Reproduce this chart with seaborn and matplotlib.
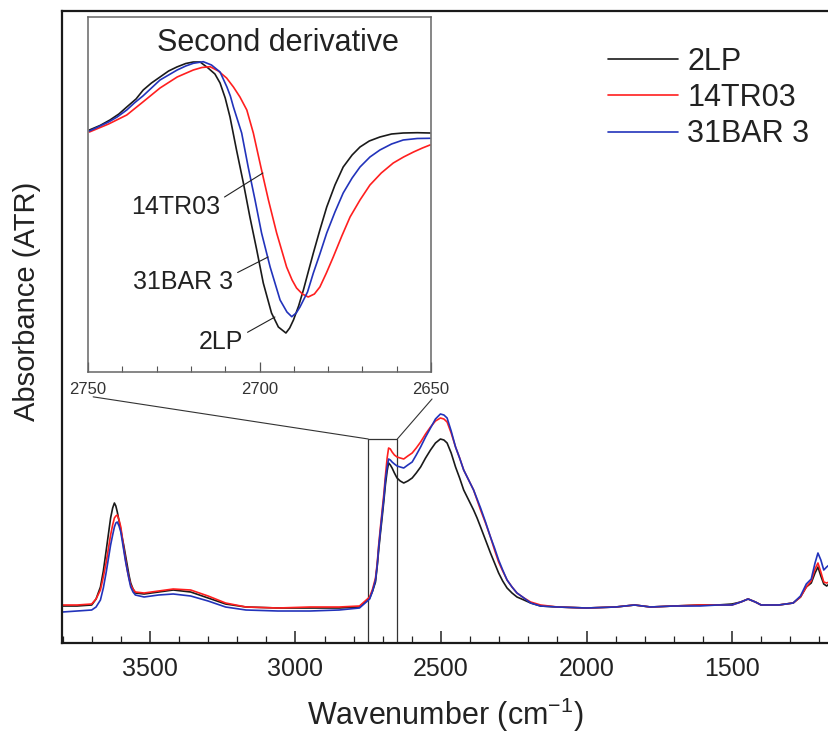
import numpy as np
import pandas as pd
import seaborn as sns
import matplotlib.pyplot as plt
from matplotlib.patches import Rectangle, ConnectionPatch
from matplotlib.ticker import MultipleLocator

samples = ["2LP", "14TR03", "31BAR 3"]
colors = ["#1a1a1a", "#ff1f1f", "#2233bb"]

# ATR spectra (absorbance, arbitrary units), wavenumber in cm-1
wn = [3800, 3750, 3700, 3685, 3670, 3660, 3650, 3635, 3628, 3622, 3617, 3612,
      3606, 3600, 3595, 3590, 3584, 3578, 3572, 3566, 3558, 3550, 3520, 3470,
      3420, 3360, 3300, 3240, 3170, 3060, 2950, 2850, 2780, 2745, 2735, 2725,
      2719, 2714, 2708, 2702, 2696, 2691, 2685, 2680, 2674, 2668, 2660, 2651,
      2640, 2628, 2614, 2599, 2585, 2570, 2553, 2536, 2519, 2502, 2490, 2479,
      2465, 2450, 2436, 2422, 2405, 2388, 2376, 2364, 2347, 2330, 2316, 2302,
      2288, 2273, 2256, 2239, 2215, 2192, 2158, 2100, 2000, 1900, 1835, 1780,
      1700, 1610, 1550, 1500, 1470, 1445, 1420, 1400, 1340, 1290, 1265, 1245,
      1228, 1215, 1205, 1195, 1185, 1175, 1167]
abs_2lp = [37, 37, 38, 44, 56, 72, 93, 125, 135, 140, 137, 131,
           122, 113, 105, 98, 88, 78, 68, 60, 54, 50, 49, 51,
           53, 51, 45, 39, 36, 35, 35, 35, 36, 45, 52, 61,
           77, 93, 110, 126, 143, 158, 172, 180, 178, 175, 170, 165,
           162, 160, 162, 165, 170, 176, 185, 193, 200, 204, 203, 200,
           190, 176, 165, 153, 143, 133, 125, 116, 103, 90, 80, 70,
           62, 55, 50, 46, 43, 40, 37, 36, 35, 36, 38, 36,
           37, 38, 38, 39, 41, 44, 41, 38, 38, 40, 46, 56,
           60, 70, 76, 67, 59, 57, 59]
abs_14tr03 = [38, 38, 39, 44, 53, 66, 81, 108, 118, 125, 127, 128,
              123, 116, 106, 95, 84, 73, 65, 58, 54, 51, 50, 52,
              54, 53, 47, 40, 36, 35, 36, 36, 37, 46, 54, 65,
              80, 98, 116, 133, 150, 167, 185, 195, 194, 191, 188, 186,
              185, 184, 187, 190, 195, 201, 209, 216, 222, 225, 224, 221,
              210, 196, 185, 173, 163, 153, 143, 133, 120, 106, 93, 81,
              72, 63, 56, 50, 45, 41, 38, 36, 35, 36, 38, 36,
              37, 38, 38, 38, 41, 44, 41, 38, 38, 40, 46, 56,
              62, 74, 80, 71, 61, 60, 61]
abs_31bar3 = [31, 32, 33, 36, 43, 55, 71, 98, 108, 116, 120, 121,
              117, 111, 102, 93, 82, 73, 64, 56, 51, 48, 46, 48,
              49, 47, 42, 36, 33, 32, 32, 33, 35, 44, 52, 63,
              78, 96, 113, 130, 146, 163, 176, 184, 183, 181, 179, 177,
              176, 175, 178, 181, 188, 196, 206, 215, 224, 229, 228, 225,
              212, 196, 185, 173, 163, 153, 144, 135, 121, 106, 95, 83,
              73, 63, 56, 50, 45, 40, 37, 36, 35, 36, 38, 36,
              37, 37, 38, 38, 41, 44, 41, 38, 38, 40, 47, 59,
              64, 80, 90, 83, 73, 76, 78]

# second derivative, 2750-2650 cm-1 (arbitrary units)
d2_wn_2lp = [2749.6, 2746.5, 2743.6, 2741.0, 2738.7, 2736.0, 2733.9, 2731.5,
             2729.0, 2726.5, 2724.1, 2721.5, 2719.3, 2717.3, 2715.0, 2713.0,
             2711.5, 2710.0, 2708.6, 2706.7, 2704.7, 2702.8, 2700.8, 2698.9,
             2696.5, 2694.5, 2692.3, 2691.2, 2690.1, 2688.6, 2687.2, 2685.8,
             2684.3, 2682.4, 2680.4, 2678.0, 2675.6, 2673.0, 2670.7, 2668.0,
             2664.9, 2661.5, 2658.1, 2654.0, 2650.3]
d2_2lp = [0, 4.5, 10, 16, 23, 31, 40, 47,
          53, 59, 63, 66.5, 68, 68, 62, 56,
          47, 32, 13, -20, -53, -87, -120, -153,
          -183, -197, -203, -198, -190, -176, -160, -142,
          -123, -100, -77, -55, -37, -25, -17, -11,
          -7, -4, -3, -2.7, -3]
d2_wn_14tr03 = [2749.6, 2744.0, 2738.7, 2734.0, 2729.0, 2724.0, 2719.3, 2716.8,
                2714.4, 2712.0, 2709.6, 2707.6, 2705.7, 2703.7, 2701.8, 2699.6,
                2697.4, 2695.0, 2692.1, 2690.5, 2689.2, 2687.5, 2685.8, 2684.0,
                2682.4, 2680.5, 2678.5, 2676.0, 2673.6, 2670.7, 2667.8, 2664.5,
                2661.0, 2658.0, 2655.1, 2652.5, 2650.3]
d2_14tr03 = [-2, 6, 15, 28, 42, 53, 60, 62.5,
             63.3, 59, 52, 43, 33, 20, -3, -37,
             -70, -103, -137, -150, -158, -164, -167, -164,
             -157, -143, -127, -106, -87, -70, -55, -43,
             -33, -27, -22, -18, -15]
d2_wn_31bar3 = [2749.6, 2744.0, 2741.5, 2738.7, 2736.5, 2734.0, 2731.5, 2729.0,
                2726.5, 2724.0, 2721.5, 2719.3, 2716.4, 2714.0, 2711.5, 2709.5,
                2708.5, 2707.6, 2705.2, 2703.3, 2701.3, 2699.4, 2696.9, 2694.0,
                2692.0, 2690.6, 2689.3, 2688.2, 2686.0, 2684.3, 2682.4, 2680.4,
                2678.0, 2675.6, 2673.0, 2670.7, 2667.8, 2664.9, 2661.5, 2658.1,
                2654.0, 2650.3]
d2_31bar3 = [-1, 8, 13, 20, 27, 34, 42, 50,
             55, 60, 64, 66.7, 68.3, 65, 58, 43,
             34, 23, -3, -37, -70, -103, -137, -170,
             -182, -186.7, -183, -177, -162, -143, -124, -103,
             -82, -63, -48, -37, -27, -20, -14, -10,
             -8.5, -8.3]

zoom_lo, zoom_hi, zoom_top = 2750, 2650, 204

main = pd.concat([pd.DataFrame({"wn": wn, "A": a, "sample": s})
                  for s, a in zip(samples, [abs_2lp, abs_14tr03, abs_31bar3])])
deriv = pd.concat([pd.DataFrame({"wn": w, "d2": d, "sample": s})
                   for s, w, d in zip(samples,
                                      [d2_wn_2lp, d2_wn_14tr03, d2_wn_31bar3],
                                      [d2_2lp, d2_14tr03, d2_31bar3])])

sns.set_theme(style="ticks")
plt.rcParams["font.family"] = ["Liberation Sans", "DejaVu Sans"]
plt.rcParams["mathtext.fontset"] = "custom"
plt.rcParams["mathtext.rm"] = "Liberation Sans"
plt.rcParams["mathtext.it"] = "Liberation Sans:italic"
plt.rcParams["text.color"] = "#222222"

fig = plt.figure(figsize=(8.29, 7.38), dpi=100)
ax = fig.add_axes([62/829, 1 - 643/738, 1 - 62/829, 632/738])

sns.lineplot(data=main, x="wn", y="A", hue="sample", hue_order=samples,
             palette=colors, estimator=None, sort=False, lw=1.2, ax=ax)
ax.set_xlim(3802, 1167)
ax.set_ylim(0, 632)
ax.set_yticks([])
ax.xaxis.set_major_locator(MultipleLocator(500))
ax.xaxis.set_minor_locator(MultipleLocator(100))
ax.tick_params(axis="x", which="both", direction="in", top=False,
               color="#222222", labelsize=18, pad=10, labelcolor="#222222")
ax.tick_params(axis="x", which="major", length=9, width=1.1)
ax.tick_params(axis="x", which="minor", length=5, width=0.9)
ax.spines["right"].set_visible(False)
for s in ["left", "top", "bottom"]:
    ax.spines[s].set_linewidth(1.6)
    ax.spines[s].set_color("#1a1a1a")
ax.set_xlabel("Wavenumber (cm$^{-1}$)", fontsize=22, labelpad=11, color="#222222")
ax.set_ylabel("Absorbance (ATR)", fontsize=21, color="#222222")
ax.yaxis.set_label_coords(-0.027, 0.54)

ax.add_patch(Rectangle((zoom_lo, 0), zoom_hi - zoom_lo, zoom_top, fill=False,
                       ec="#333333", lw=0.9, zorder=1))

sns.move_legend(ax, "upper left", bbox_to_anchor=(608/829, 1 - 47/738),
                bbox_transform=fig.transFigure, frameon=False, title=None,
                fontsize=22, handlelength=2.3, handletextpad=0.3,
                labelspacing=0.2, borderaxespad=0, borderpad=0)

# inset: second derivative
axin = fig.add_axes([88/829, 1 - 372/738, 343/829, 355/738])
axin.set_facecolor("white")
sns.lineplot(data=deriv, x="wn", y="d2", hue="sample", hue_order=samples,
             palette=colors, estimator=None, sort=False, lw=1.2, legend=False,
             ax=axin)
axin.set_xlim(zoom_lo, zoom_hi)
axin.set_ylim(-242, 113)
axin.set_yticks([])
axin.set_xlabel("")
axin.set_ylabel("")
axin.xaxis.set_major_locator(MultipleLocator(50))
axin.xaxis.set_minor_locator(MultipleLocator(10))
axin.tick_params(axis="x", which="both", direction="in", color="#555555",
                 labelsize=12, pad=7, labelcolor="#333333")
axin.tick_params(axis="x", which="major", length=7, width=0.9)
axin.tick_params(axis="x", which="minor", length=4, width=0.8)
for s in axin.spines.values():
    s.set_linewidth(1.1)
    s.set_color("#666666")

axin.text(0.554, 0.927, "Second derivative", transform=axin.transAxes,
          ha="center", va="center", fontsize=22)
arrow = dict(arrowstyle="-", color="#222222", lw=0.8, shrinkA=1, shrinkB=0,
             relpos=(1.0, 0.8))
axin.annotate("14TR03", xy=(2699, -43), xytext=(2711.5, -77), ha="right",
              va="center", fontsize=18, arrowprops=arrow)
axin.annotate("31BAR 3", xy=(2697.5, -127), xytext=(2707.7, -152), ha="right",
              va="center", fontsize=18, arrowprops=arrow)
axin.annotate("2LP", xy=(2695.5, -187), xytext=(2704.8, -212), ha="right",
              va="center", fontsize=18, arrowprops=arrow)

for xa, xb in [((0.015, -0.07), zoom_lo), ((1.003, -0.076), zoom_hi)]:
    con = ConnectionPatch(xyA=xa, coordsA=axin.transAxes,
                          xyB=(xb, zoom_top), coordsB=ax.transData,
                          color="#333333", lw=0.8)
    fig.add_artist(con)

fig.savefig("out.png", dpi=100)
